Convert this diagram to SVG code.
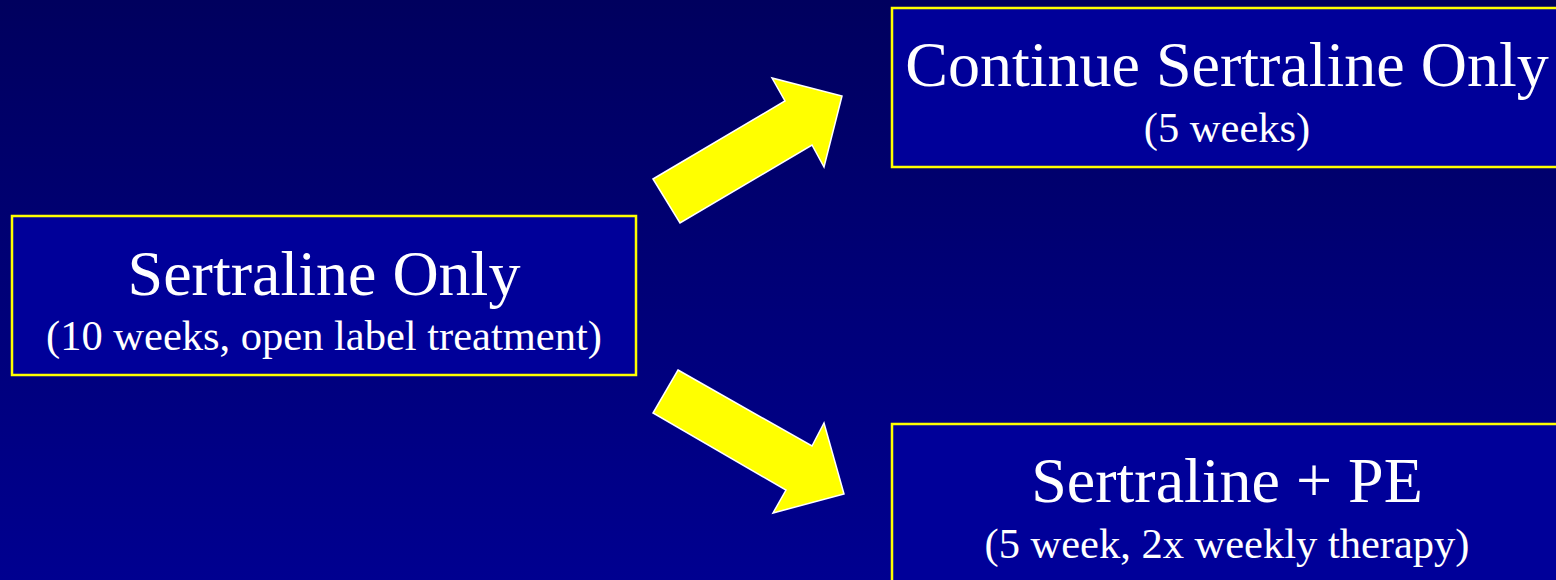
<svg xmlns="http://www.w3.org/2000/svg" width="1556" height="580" viewBox="0 0 1556 580">
  <defs>
    <linearGradient id="bg" x1="0" y1="0" x2="0" y2="1">
      <stop offset="0" stop-color="#00005e"/>
      <stop offset="1" stop-color="#000090"/>
    </linearGradient>
    <style>
      .box { fill: #000099; stroke: #ffff00; stroke-width: 2.5; }
      .arrow { fill: #ffff00; stroke: #ffffff; stroke-width: 1.5; stroke-linejoin: miter; }
      .title { font-family: "Liberation Serif", "Times New Roman", serif; font-size: 64px; fill: #ffffff; text-anchor: middle; }
      .sub { font-family: "Liberation Serif", "Times New Roman", serif; font-size: 42.5px; fill: #ffffff; text-anchor: middle; }
    </style>
  </defs>

  <rect x="0" y="0" width="1556" height="580" fill="url(#bg)"/>

  <g id="connectors">
    <polygon class="arrow" points="653,179 785,101 772,78 842,96 824,167 812,145 680,223"/>
    <polygon class="arrow" points="678,370 812,446 824,423 844,494 773,513 786,490 653,413"/>
  </g>

  <g id="node-sertraline-only">
    <rect class="box" x="12" y="216" width="624" height="159"/>
    <text class="title" x="324" y="295">Sertraline Only</text>
    <text class="sub" x="324" y="350">(10 weeks, open label treatment)</text>
  </g>

  <g id="node-continue">
    <rect class="box" x="892" y="8" width="670" height="159"/>
    <text class="title" x="1227" y="86">Continue Sertraline Only</text>
    <text class="sub" x="1227" y="142">(5 weeks)</text>
  </g>

  <g id="node-sertraline-pe">
    <rect class="box" x="892" y="424" width="670" height="170"/>
    <text class="title" x="1227" y="502">Sertraline + PE</text>
    <text class="sub" x="1227" y="558">(5 week, 2x weekly therapy)</text>
  </g>
</svg>
